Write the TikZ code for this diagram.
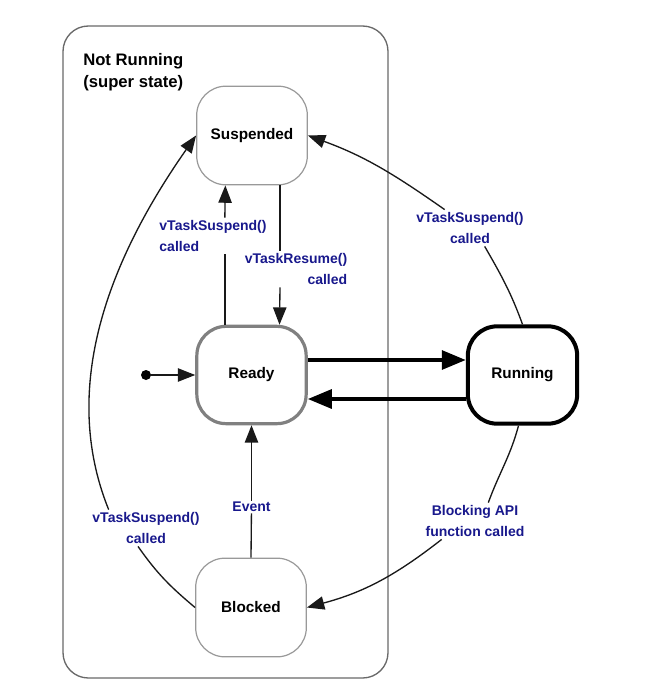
\documentclass[tikz,border=0pt]{standalone}
\usepackage{fontspec}
\setmainfont{Liberation Sans}
\usepackage{xcolor}
\usepackage{tikz}
\usetikzlibrary{arrows.meta}
\usetikzlibrary{positioning}
\definecolor{lblblue}{RGB}{24,24,140}
\definecolor{framegray}{RGB}{105,105,105}
\begin{document}
\begin{tikzpicture}[
  x=0.75pt, y=0.75pt,
  statebox/.style={draw=gray!80, line width=0.9pt, rounded corners=22pt,
    minimum width=83pt, minimum height=74pt, fill=white,
    font=\bfseries\fontsize{11.5}{14}\selectfont},
  readybox/.style={statebox, draw=gray, line width=2.4pt, minimum width=82pt, minimum height=73pt},
  runbox/.style={statebox, draw=black, line width=3pt, minimum width=82pt, minimum height=73pt},
  lbl/.style={text=lblblue, inner sep=2pt, font=\bfseries\fontsize{10.5}{15.5}\selectfont},
  link/.style={draw=black!90, line width=1pt},
  tip/.style={-{Triangle[length=13pt,width=10pt]}},
  biglink/.style={draw=black, line width=3pt, -{Triangle[length=18pt,width=14pt]}},
  dot/.style={circle, fill=black, inner sep=0pt, minimum size=7.5pt}
]
\useasboundingbox (0,0) rectangle (644,-689);

% super state
\draw[framegray, line width=1pt, rounded corners=19pt] (63,-26) rectangle (388,-678);
\node[anchor=north west, align=left, inner sep=0pt, font=\bfseries\fontsize{12.5}{16.5}\selectfont]
  (nrtitle) at (83,-53) {Not Running\\(super state)};

% states
\node[statebox] (susp) at (252,-135.5) {Suspended};
\node[readybox] (ready) at (251.5,-375) {Ready};
\node[runbox] (run) at (522.5,-375) {Running};
\node[statebox] (block) at (251,-607.5) {Blocked};
\node[dot] (init) at (146,-375) {};

% transition labels
\node[lbl, align=left] (lsusp) at (213,-236) {vTaskSuspend()\\called};
\node[lbl, align=right] (lres) at (296,-269) {vTaskResume()\\called};
\node[lbl, align=center] (lrs) at (470,-228) {vTaskSuspend()\\called};
\node[lbl, align=center] (lblk) at (475,-521) {Blocking API\\function called};
\node[lbl, align=center] (lbs) at (146,-528) {vTaskSuspend()\\called};
\node[lbl, inner sep=1pt] (lev) at (251.5,-507) {Event};

% transitions
\draw[link, tip] (init) -- (ready);
\draw[link] ([xshift=-20pt]ready.north) -- ([xshift=-20pt]ready.north |- lsusp.south);
\draw[link, tip] ([xshift=-20pt]ready.north |- lsusp.north) -- ([xshift=-20pt]susp.south);
\draw[link] ([xshift=21pt]susp.south) -- ([xshift=21pt]susp.south |- lres.north);
\draw[link, tip] ([xshift=21pt]susp.south |- lres.south) -- ([xshift=21pt]ready.north);
\draw[link] (block.north) -- (lev);
\draw[link, tip] (lev) -- (ready.south);
\draw[biglink] ([yshift=11.25pt]ready.east) -- ([yshift=11.25pt]run.west);
\draw[biglink] ([yshift=-18pt]run.west) -- ([yshift=-18pt]ready.east);
\draw[link] (run.north) to[out=110, in=-60] ([xshift=11pt]lrs.south);
\draw[link, tip] ([xshift=-19pt]lrs.north) to[out=145, in=-20] (susp.east);
\draw[link] ([xshift=-3pt]run.south) to[out=-105, in=70] ([xshift=10pt]lblk.north);
\draw[link, tip] ([xshift=-25pt]lblk.south) to[out=-142, in=15] (block.east);
\draw[link] (block.west) to[out=140, in=-55] ([xshift=-6pt]lbs.south);
\draw[link, tip] ([xshift=-28pt]lbs.north) to[out=112, in=-125, out distance=100pt, in distance=112pt] (susp.west);
\end{tikzpicture}
\end{document}
